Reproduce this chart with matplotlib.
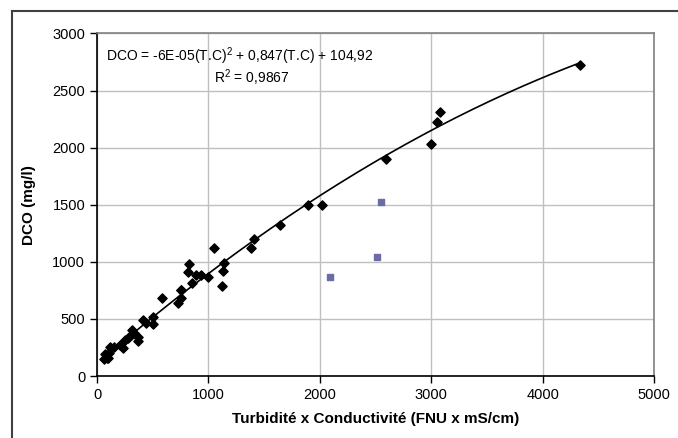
import numpy as np
import matplotlib
matplotlib.use('Agg')
import matplotlib.pyplot as plt
from matplotlib.lines import Line2D

plt.rcParams['font.family'] = ['Liberation Sans', 'DejaVu Sans']
plt.rcParams['mathtext.fontset'] = 'custom'
plt.rcParams['mathtext.rm'] = 'Liberation Sans'
plt.rcParams['mathtext.it'] = 'Liberation Sans'
plt.rcParams['mathtext.default'] = 'regular'

# Points retenus (losanges noirs)
tc = [63, 72, 87, 101, 110, 117, 153, 206, 236, 251, 281, 305, 311, 330, 365, 365,
      410, 440, 506, 506, 587, 724, 751, 751, 754, 814, 829, 850, 885, 930, 999,
      1053, 1119, 1134, 1143, 1382, 1409, 1643, 1897, 2017, 2594, 2998, 3055,
      3080, 4340]
dco = [149, 190, 155, 155, 199, 257, 251, 271, 243, 315, 330, 359, 403, 375, 344, 306,
       490, 467, 519, 453, 686, 642, 686, 753, 753, 913, 981, 817, 884, 884, 864,
       1118, 791, 919, 987, 1118, 1197, 1322, 1497, 1497, 1898, 2032, 2227,
       2310, 2720]

# Points écartés (carrés bleus)
tc_out = [2092, 2510, 2550]
dco_out = [870, 1045, 1527]

# Courbe de tendance polynomiale
coef = [-5.5e-05, 0.847, 104.92]

fig = plt.figure(figsize=(6.78, 4.38), dpi=100)
ax = fig.add_axes([97 / 678, 62 / 438, 557 / 678, 342.5 / 438])

xs = np.linspace(min(tc), max(tc), 200)
ax.plot(xs, np.polyval(coef, xs), color='black', lw=1.2, zorder=2)
ax.scatter(tc, dco, marker='D', s=22, color='black', zorder=3)
ax.scatter(tc_out, dco_out, marker='s', s=16, color='#6b6ba6', zorder=3)

ax.set_xlim(0, 5000)
ax.set_ylim(0, 3000)
ax.set_xticks(range(0, 5001, 1000))
ax.set_yticks(range(0, 3001, 500))
ax.grid(True, color='#c0c0c0', lw=1)
ax.set_axisbelow(True)
ax.tick_params(direction='out', length=5, width=1, labelsize=10.5, colors='black')
for s in ['left', 'bottom']:
    ax.spines[s].set_color('black')
    ax.spines[s].set_linewidth(1.2)
for s in ['top', 'right']:
    ax.spines[s].set_color('#808080')
    ax.spines[s].set_linewidth(1.2)

ax.set_xlabel('Turbidité x Conductivité (FNU x mS/cm)', fontsize=11, fontweight='bold')
ax.set_ylabel('DCO (mg/l)', fontsize=11, fontweight='bold')
ax.xaxis.set_label_coords(0.5, -0.105)
ax.yaxis.set_label_coords(-0.11, 0.5)

ax.text(0.016, 0.935, 'DCO = -6E-05(T.C)$^2$ + 0,847(T.C) + 104,92', transform=ax.transAxes,
        fontsize=10, va='center', ha='left')
ax.text(0.21, 0.87, 'R$^2$ = 0,9867', transform=ax.transAxes, fontsize=10,
        va='center', ha='left')

# cadre du graphique
fig.add_artist(Line2D([12 / 678, 12 / 678], [0, 1 - 11 / 438], color='#404040', lw=1.5))
fig.add_artist(Line2D([12 / 678, 1], [1 - 11 / 438, 1 - 11 / 438], color='#404040', lw=1.5))

fig.savefig('out.png', dpi=100)
